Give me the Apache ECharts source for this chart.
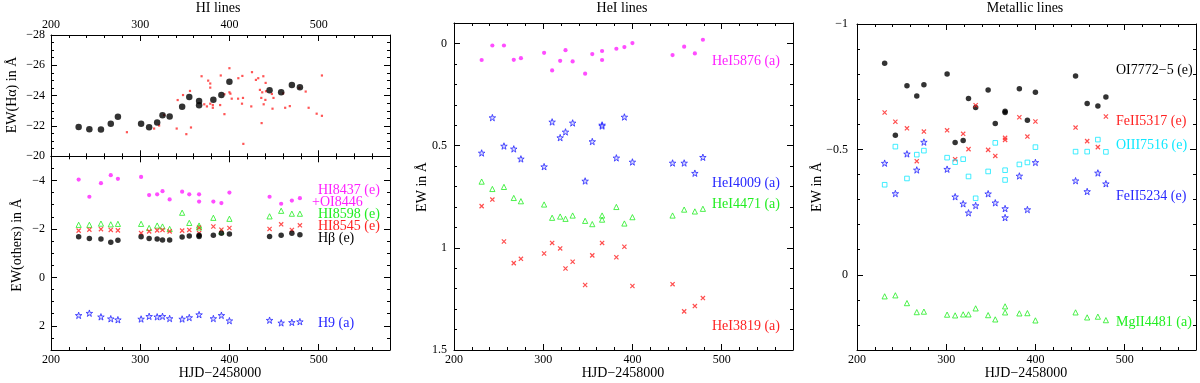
<!DOCTYPE html>
<html><head><meta charset="utf-8">
<script src="https://cdn.jsdelivr.net/npm/echarts@6/dist/echarts.min.js"></script>
<style>html,body{margin:0;padding:0;background:#fff}#c{width:1200px;height:383px}</style>
</head><body><div id="c"></div>
<script>
// ---------- DATA ----------
const dates = [231,243,256,267,275,301,310,319,325,333,347,355,366,366,382,391,400,445,458,470,479];

// HI panel (top): EW(Halpha)
const haEW = [-21.94,-21.79,-21.77,-22.14,-22.61,-22.14,-21.92,-22.23,-22.70,-22.63,-23.27,-23.91,-23.65,-23.36,-23.73,-24.04,-24.91,-24.35,-24.22,-24.71,-24.55];
const haRedDays = [285.1,315.6,321.2,326.8,340.9,342.0,348.0,351.7,355.8,356.9,368.8,376.2,378.5,378.5,371.8,374.8,378.5,381.4,381.4,389.6,390.3,394.4,394.4,400.0,400.0,401.1,402.6,410.0,409.7,414.5,415.2,414.1,415.6,424.5,425.3,429.7,432.3,434.2,436.8,435.7,438.0,440.6,441.0,440.3,438.4,436.1,447.6,449.4,448.3,460.2,462.5,467.7,478.4,485.5,488.8,497.8,503.7,503.7];
const haRedEW = [-21.59,-21.83,-22.03,-22.72,-21.83,-23.71,-24.04,-21.46,-24.31,-21.90,-25.28,-24.99,-24.80,-24.53,-23.43,-23.29,-23.47,-23.38,-23.20,-23.38,-25.33,-24.09,-22.78,-25.81,-24.22,-24.13,-23.80,-25.15,-23.80,-25.30,-23.85,-23.47,-20.82,-23.29,-25.55,-25.04,-25.15,-24.38,-24.22,-23.85,-25.28,-24.84,-24.29,-23.72,-23.43,-22.19,-24.11,-23.85,-23.14,-24.15,-23.20,-23.31,-24.51,-24.27,-23.20,-22.81,-25.33,-22.67];

// HI panel (bottom): EW(others)
const hi8437 = [-4.04,-3.33,-3.89,-4.22,-4.07,-4.15,-3.40,-3.43,-3.56,-3.22,-3.54,-3.43,-3.43,-3.13,-3.13,-3.07,-3.50,-3.33,-3.04,-3.17,-3.27];
const hi8598 = [-2.17,-2.17,-2.22,-2.19,-2.21,-2.21,-2.04,-2.14,-2.10,-2.00,-2.67,-2.25,-2.14,-2.06,-2.46,-1.89,-2.42,-2.52,-2.75,-2.63,-2.63];
const hi8545 = [-1.93,-1.97,-1.99,-1.96,-1.94,-1.83,-1.90,-1.94,-1.96,-1.90,-1.93,-1.96,-2.05,-1.83,-2.10,-1.97,-2.04,-2.00,-2.19,-1.96,-2.15];
const hbeta  = [-1.68,-1.61,-1.58,-1.45,-1.53,-1.68,-1.61,-1.58,-1.54,-1.54,-1.67,-1.71,-1.74,-1.69,-1.74,-1.82,-1.79,-1.69,-1.74,-1.82,-1.76];
const h9     = [1.57,1.48,1.63,1.71,1.75,1.72,1.61,1.63,1.61,1.70,1.72,1.66,1.54,null,1.70,1.57,1.79,1.77,1.88,1.86,1.83];

// HeI panel
const hei5876 = [0.081,0.010,0.010,0.080,0.072,0.046,0.132,0.085,0.033,0.088,0.148,0.052,0.037,0.081,0.026,0.018,-0.002,0.057,0.016,0.049,-0.018];
const hei4009 = [0.536,0.363,0.502,0.516,0.565,0.603,0.384,0.461,0.433,0.389,0.673,0.480,0.399,0.404,0.560,0.360,0.580,0.585,0.585,0.635,0.557];
const hei4471 = [0.676,0.712,0.702,0.756,0.772,0.788,0.853,0.847,0.858,0.842,0.868,0.884,0.842,0.862,0.800,0.881,0.850,0.842,0.813,0.822,0.809];
const hei3819 = [0.796,0.764,0.969,1.075,1.054,1.028,0.976,1.003,1.101,1.068,1.182,1.037,0.976,null,1.046,0.995,1.187,1.178,1.311,1.285,1.246];

// Metallic panel
const oi7772   = [-0.843,-0.556,-0.754,-0.713,-0.758,-0.801,-0.527,-0.535,-0.703,-0.667,-0.737,-0.603,-0.652,-0.647,-0.742,-0.616,-0.728,-0.793,-0.683,-0.673,-0.709];
const feii5317 = [-0.647,-0.610,-0.584,-0.453,-0.571,-0.576,-0.461,-0.562,-0.501,-0.676,-0.498,-0.474,-0.546,-0.538,-0.628,-0.551,-0.611,-0.587,-0.533,-0.509,-0.631];
const oiii7516 = [-0.359,-0.511,-0.384,-0.479,-0.495,-0.467,-0.449,-0.461,-0.392,-0.305,-0.412,-0.526,-0.417,-0.378,-0.440,-0.448,-0.509,-0.491,-0.491,-0.539,-0.490];
const feii5234 = [-0.445,-0.324,-0.482,-0.418,-0.529,-0.421,-0.311,-0.283,-0.247,-0.276,-0.323,-0.287,-0.264,-0.228,-0.394,-0.260,-0.448,-0.375,-0.332,-0.406,-0.363];
const mgii4481 = [0.086,0.082,0.113,0.149,0.147,0.159,0.162,0.158,0.158,0.134,0.161,0.178,0.126,0.150,0.154,0.153,0.182,0.150,0.170,0.167,0.181];

// Tick labels
const xTicks = [200,300,400,500];
const yTicksHa = [-28,-26,-24,-22,-20];
const yTicksOthers = [-4,-2,0,2];
const yTicksHeI = [0,0.5,1,1.5];
const yTicksMet = [-1,-0.5,0];

// ---------- BUILD ----------
const FONT = '"Liberation Serif","DejaVu Serif",serif';
const grids = [
  {left:51, top:35, width:339, height:121.3},
  {left:51, top:156.3, width:339, height:193.7},
  {left:454, top:23, width:339, height:327},
  {left:857, top:24, width:339, height:326}
];
const yCfg = [
  {min:-28, max:-20, minor:0.5, ticks:yTicksHa, margin:6},
  {min:-5, max:3, minor:0.5, ticks:yTicksOthers, margin:6},
  {min:-0.1, max:1.5, minor:0.1, ticks:yTicksHeI, margin:7},
  {min:-1, max:0.3, minor:0.1, ticks:yTicksMet, margin:9}
];
const fmt = v => String(+v.toFixed(3)).replace('-', '\u2212');
const line = {show:true, onZero:false, lineStyle:{color:'#000', width:1}};
const xAxes = [], yAxes = [];
grids.forEach((g, gi) => {
  ['bottom','top'].forEach(pos => {
    const showLab = (gi === 0 && pos === 'top') || (gi > 0 && pos === 'bottom');
    xAxes.push({type:'value', gridIndex:gi, position:pos, min:200, max:580,
      axisLine:line, splitLine:{show:false},
      axisTick:{show:true, inside:true, length:6, customValues:xTicks, lineStyle:{color:'#000'}},
      axisLabel:{show:showLab, customValues:xTicks, formatter:fmt, margin:4, color:'#000', fontFamily:FONT, fontSize:12}});
    xAxes.push({type:'value', gridIndex:gi, position:pos, min:200, max:580, interval:20,
      axisLine:{show:false, onZero:false}, splitLine:{show:false},
      axisTick:{show:true, inside:true, length:3, lineStyle:{color:'#000'}}, axisLabel:{show:false}});
  });
  const c = yCfg[gi];
  ['left','right'].forEach(pos => {
    yAxes.push({type:'value', gridIndex:gi, position:pos, inverse:true, min:c.min, max:c.max,
      axisLine:line, splitLine:{show:false},
      axisTick:{show:true, inside:true, length:6, customValues:c.ticks, lineStyle:{color:'#000'}},
      axisLabel:{show:pos === 'left', customValues:c.ticks, formatter:fmt, margin:c.margin, color:'#000', fontFamily:FONT, fontSize:12}});
    yAxes.push({type:'value', gridIndex:gi, position:pos, inverse:true, min:c.min, max:c.max, interval:c.minor,
      axisLine:{show:false, onZero:false}, splitLine:{show:false},
      axisTick:{show:true, inside:true, length:3, lineStyle:{color:'#000'}}, axisLabel:{show:false}});
  });
});

const pairs = (xs, ys) => xs.map((x, i) => ys[i] == null ? null : [x, ys[i]]).filter(Boolean);
const STAR = 'path://M5,0L6.2,3.6L10,3.6L7,5.9L8.1,9.5L5,7.3L1.9,9.5L3,5.9L0,3.6L3.8,3.6Z';
const XMARK = 'path://M0,0L10,10M10,0L0,10';
const sym = {
  dotBig:   {symbol:'circle', symbolSize:6.5, itemStyle:{color:'#000'}},
  dot:      {symbol:'circle', symbolSize:5.5, itemStyle:{color:'#000'}},
  redDot:   {symbol:'rect', symbolSize:2.2, itemStyle:{color:'#ff2a2a'}},
  mag:      {symbol:'circle', symbolSize:4.2, itemStyle:{color:'#ff20ff'}},
  tri:      {symbol:'triangle', symbolSize:5.2, itemStyle:{color:'rgba(255,255,255,0)', borderColor:'#22ee22', borderWidth:1}},
  cross:    {symbol:XMARK, symbolSize:4.2, itemStyle:{color:'rgba(255,0,0,0)', borderColor:'#ff2222', borderWidth:1.2}},
  star:     {symbol:STAR, symbolSize:6.5, itemStyle:{color:'rgba(190,190,255,0.7)', borderColor:'#2828ff', borderWidth:1}},
  square:   {symbol:'rect', symbolSize:4.6, itemStyle:{color:'rgba(255,255,255,0)', borderColor:'#10e8ff', borderWidth:1}}
};
const series = [];
function add(gi, data, s) {
  series.push(Object.assign({type:'scatter', xAxisIndex:gi*4, yAxisIndex:gi*4, data, silent:true, animation:false}, s));
}
add(0, pairs(haRedDays, haRedEW), sym.redDot);
add(0, pairs(dates, haEW), sym.dotBig);
add(1, pairs(dates, hi8437), sym.mag);
add(1, pairs(dates, hi8598), sym.tri);
add(1, pairs(dates, hi8545), sym.cross);
add(1, pairs(dates, hbeta), sym.dot);
add(1, pairs(dates, h9), sym.star);
add(2, pairs(dates, hei5876), sym.mag);
add(2, pairs(dates, hei4009), sym.star);
add(2, pairs(dates, hei4471), sym.tri);
add(2, pairs(dates, hei3819), sym.cross);
add(3, pairs(dates, oi7772), sym.dot);
add(3, pairs(dates, feii5317), sym.cross);
add(3, pairs(dates, oiii7516), sym.square);
add(3, pairs(dates, feii5234), sym.star);
add(3, pairs(dates, mgii4481), sym.tri);

function txt(x, y, text, color, opt) {
  opt = opt || {};
  return {type:'text', x, y, rotation:opt.rot || 0, silent:true, z:10,
    style:{text, fill:color, font:(opt.size || 14) + 'px ' + FONT, align:opt.align || 'left', verticalAlign:'middle'}};
}
const graphic = [
  txt(218, 8, 'HI lines', '#000', {align:'center'}),
  txt(622, 8, 'HeI lines', '#000', {align:'center'}),
  txt(1025, 8, 'Metallic lines', '#000', {align:'center'}),
  txt(220, 373, 'HJD\u22122458000', '#000', {align:'center'}),
  txt(623, 373, 'HJD\u22122458000', '#000', {align:'center'}),
  txt(1026, 373, 'HJD\u22122458000', '#000', {align:'center'}),
  txt(12, 95, 'EW(H\u03b1) in \u00c5', '#000', {align:'center', rot:Math.PI/2}),
  txt(17, 245, 'EW(others) in \u00c5', '#000', {align:'center', rot:Math.PI/2}),
  txt(422, 187, 'EW in \u00c5', '#000', {align:'center', rot:Math.PI/2}),
  txt(817, 187, 'EW in \u00c5', '#000', {align:'center', rot:Math.PI/2}),
  txt(318, 190, 'HI8437 (e)', '#ff20ff'),
  txt(312, 202, '+OI8446', '#ff20ff'),
  txt(318, 214, 'HI8598 (e)', '#22ee22'),
  txt(318, 226.5, 'HI8545 (e)', '#ff2222'),
  txt(318, 238.5, 'H\u03b2 (e)', '#000'),
  txt(318, 323, 'H9 (a)', '#2828ff'),
  txt(780, 61, 'HeI5876 (a)', '#ff20ff', {align:'right'}),
  txt(780, 183, 'HeI4009 (a)', '#2828ff', {align:'right'}),
  txt(780, 204, 'HeI4471 (a)', '#22ee22', {align:'right'}),
  txt(780, 326, 'HeI3819 (a)', '#ff2222', {align:'right'}),
  txt(1116, 70, 'OI7772\u22125 (e)', '#000'),
  txt(1116, 121, 'FeII5317 (e)', '#ff2222'),
  txt(1116, 145, 'OIII7516 (e)', '#10e8ff'),
  txt(1116, 196, 'FeII5234 (e)', '#2828ff'),
  txt(1116, 322, 'MgII4481 (a)', '#22ee22')
];

const chart = echarts.init(document.getElementById('c'), null, {renderer:'canvas'});
chart.setOption({animation:false, backgroundColor:'#fff', grid:grids, xAxis:xAxes, yAxis:yAxes, series, graphic});
</script></body></html>
